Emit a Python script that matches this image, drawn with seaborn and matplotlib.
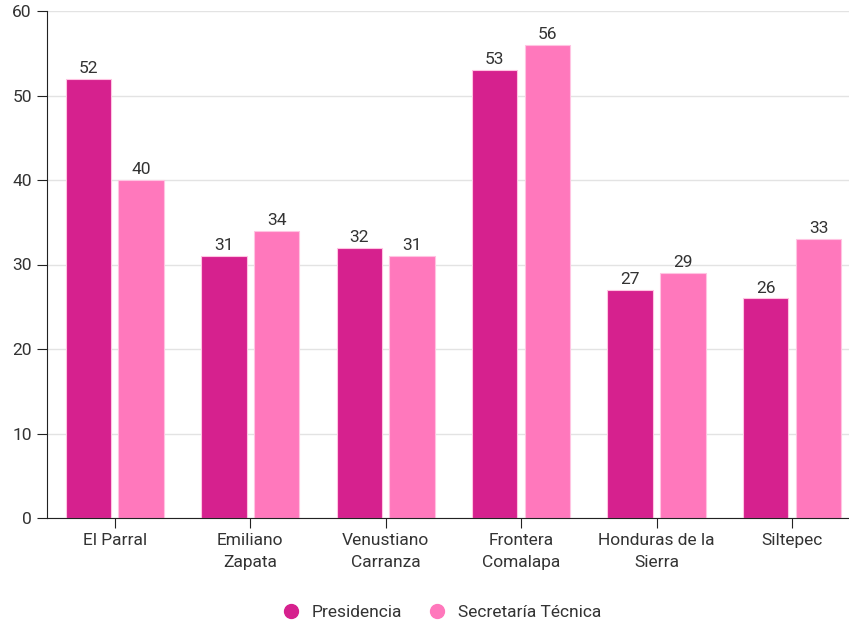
import matplotlib
matplotlib.use("Agg")
import matplotlib.pyplot as plt
from matplotlib.lines import Line2D
import pandas as pd
import seaborn as sns

municipios = ["El Parral", "Emiliano\nZapata", "Venustiano\nCarranza", "Frontera\nComalapa",
              "Honduras de la\nSierra", "Siltepec"]
presidencia = [52, 31, 32, 53, 27, 26]
secretaria = [40, 34, 31, 56, 29, 33]
series = ["Presidencia", "Secretaría Técnica"]
colores = ["#D6218E", "#FF78BC"]

df = pd.DataFrame({
    "municipio": municipios * 2,
    "valor": presidencia + secretaria,
    "serie": [series[0]] * len(municipios) + [series[1]] * len(municipios),
})

sns.set_style("white")
plt.rcParams["font.family"] = ["Roboto", "DejaVu Sans"]
txt = "#333333"

fig = plt.figure(figsize=(8.49, 6.26), dpi=100)
ax = fig.add_axes([47 / 849, 1 - 518 / 626, 1 - 47 / 849, (518 - 11) / 626])

sns.barplot(data=df, x="municipio", y="valor", hue="serie", palette=colores,
            saturation=1, width=0.78, gap=0.14, edgecolor="#FFC4E2", linewidth=0.8,
            legend=False, ax=ax)

for cont in ax.containers:
    ax.bar_label(cont, fmt="%d", padding=2, fontsize=12.5, color=txt)

ax.set_ylim(0, 60)
ax.set_xlim(-0.5, 5.42)
ax.set_yticks(range(0, 61, 10))
ax.yaxis.grid(True, color="#E3E3E3", linewidth=1)
ax.set_axisbelow(True)
for s in ["top", "right"]:
    ax.spines[s].set_visible(False)
ax.spines["left"].set_color("#222222")
ax.spines["bottom"].set_color("#222222")
ax.tick_params(axis="both", length=7, color="#222222", labelsize=12.5, labelcolor=txt, pad=4, left=True, bottom=True)
for lab in ax.get_xticklabels():
    lab.set_linespacing(1.55)
ax.set_xlabel("")
ax.set_ylabel("")

handles = [Line2D([], [], marker="o", linestyle="", markersize=10, markerfacecolor=c, markeredgecolor=c)
           for c in colores]
fig.legend(handles, series, loc="center", bbox_to_anchor=(0.515, 1 - 612 / 626), ncol=2,
           frameon=False, fontsize=12.5, labelcolor=txt, handletextpad=0.2, columnspacing=1.0)

fig.savefig("out.png", dpi=100)
